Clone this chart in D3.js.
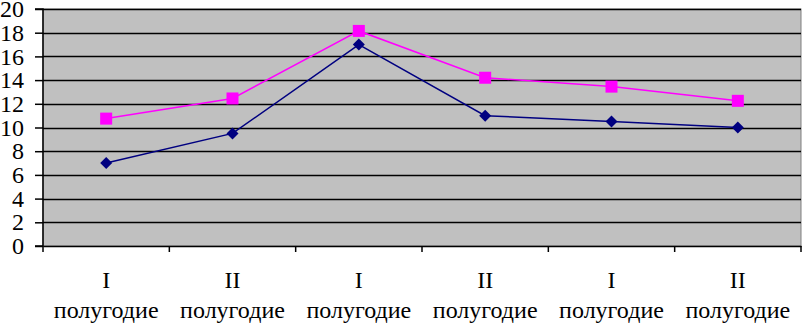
<!DOCTYPE html>
<html><head><meta charset="utf-8">
<script src="https://cdn.jsdelivr.net/npm/d3@7"></script>
<style>body{margin:0;background:#fff}svg{display:block}
svg text{font-family:"Liberation Serif","Times New Roman",serif !important;font-size:24px !important;fill:#000}</style>
</head><body>
<script>
const categories = ["I полугодие","II полугодие","I полугодие","II полугодие","I полугодие","II полугодие"];
const seriesPink = [10.75, 12.45, 18.15, 14.2, 13.45, 12.25];
const seriesBlue = [7.0, 9.5, 17.0, 11.0, 10.5, 10.0];
const yTicks = [0,2,4,6,8,10,12,14,16,18,20];

const W=805,H=324;
const m={left:43,right:4,top:9,bottom:78};
const svg=d3.select("body").append("svg").attr("width",W).attr("height",H);
const x=d3.scaleBand().domain(d3.range(categories.length)).range([m.left,W-m.right]);
const y=d3.scaleLinear().domain([0,20]).range([H-m.bottom,m.top]);

svg.append("rect").attr("x",m.left).attr("y",m.top).attr("width",W-m.right-m.left).attr("height",H-m.bottom-m.top)
  .attr("fill","#C0C0C0").attr("stroke","#808080").attr("stroke-width",1);

svg.append("g").selectAll("line").data(yTicks.filter(d=>d>0)).join("line")
  .attr("x1",m.left).attr("x2",W-m.right).attr("y1",d=>Math.round(y(d))+0.5).attr("y2",d=>Math.round(y(d))+0.5)
  .attr("stroke","#000").attr("stroke-width",1.5);

const yAxis=svg.append("g").attr("transform",`translate(${m.left},0)`)
  .call(d3.axisLeft(y).tickValues(yTicks).tickSize(8).tickPadding(11));
yAxis.select(".domain").attr("stroke","#000").attr("stroke-width",1.5).attr("d",`M-8,${y(20)}H0V${y(0)}H-8`);
yAxis.selectAll(".tick line").attr("stroke-width",1.5);

const xAxis=svg.append("g").attr("transform",`translate(0,${y(0)})`)
  .call(d3.axisBottom(x).tickSize(0).tickFormat(""));
xAxis.select(".domain").attr("stroke","#000").attr("stroke-width",1.5);
svg.append("g").selectAll("line").data(d3.range(categories.length+1)).join("line")
  .attr("x1",i=>i<categories.length?x(i):W-m.right).attr("x2",i=>i<categories.length?x(i):W-m.right)
  .attr("y1",y(0)).attr("y2",y(0)+6).attr("stroke","#000").attr("stroke-width",1.5);

const lab=svg.append("g").selectAll("text").data(categories).join("text")
  .attr("x",(d,i)=>x(i)+x.bandwidth()/2).attr("text-anchor","middle");
lab.append("tspan").attr("x",(d,i)=>x(i)+x.bandwidth()/2).attr("y",288).text(d=>d.split(" ")[0]);
lab.append("tspan").attr("x",(d,i)=>x(i)+x.bandwidth()/2).attr("y",318).text(d=>d.split(" ")[1]);

const line=d3.line().x((d,i)=>x(i)+x.bandwidth()/2).y(d=>y(d));
svg.append("path").datum(seriesBlue).attr("d",line).attr("fill","none").attr("stroke","#000080").attr("stroke-width",1.5);
svg.append("path").datum(seriesPink).attr("d",line).attr("fill","none").attr("stroke","#FF00FF").attr("stroke-width",1.5);

svg.append("g").selectAll("path").data(seriesBlue).join("path")
  .attr("transform",(d,i)=>`translate(${x(i)+x.bandwidth()/2},${y(d)})`)
  .attr("d","M0,-6L6,0L0,6L-6,0Z").attr("fill","#000080");
svg.append("g").selectAll("rect").data(seriesPink).join("rect")
  .attr("x",(d,i)=>x(i)+x.bandwidth()/2-6).attr("y",d=>y(d)-6).attr("width",12).attr("height",12).attr("fill","#FF00FF");
</script>
</body></html>
